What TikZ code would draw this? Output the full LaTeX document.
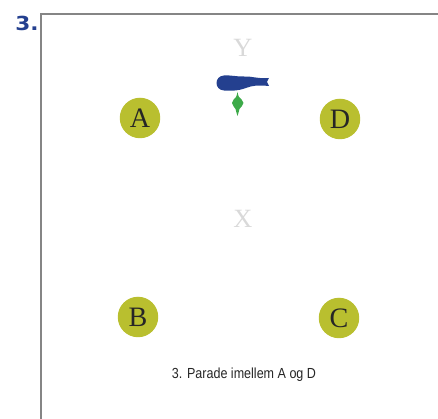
\documentclass[tikz,border=0pt]{standalone}
\usepackage{fontspec}
\setmainfont{Liberation Serif}
\newfontfamily\capfont{Liberation Sans}
\newfontfamily\numfont{DejaVu Sans}
\definecolor{olive}{HTML}{B9BF2F}
\definecolor{navy}{HTML}{24408F}
\definecolor{leaf}{HTML}{3DAA49}
\definecolor{frame}{HTML}{858585}
\definecolor{mark}{HTML}{D9D9D9}
\tikzset{
  post/.style={circle,fill=olive,minimum size=0.81cm,inner sep=0pt,font=\fontsize{16}{16}\selectfont,text=black!85},
  field/.style={inner sep=0pt,font=\fontsize{15}{15}\selectfont,text=mark}
}
\begin{document}
\begin{tikzpicture}[scale=0.02]
\useasboundingbox (0,0) rectangle (438,-419);
\draw [frame,line width=1.5pt] (41,-419) -- (41,-14) -- (438,-14);
\node [inner sep=0pt,xscale=1.12,text=navy,font=\numfont\bfseries\fontsize{11}{11}\selectfont] (num) at (27,-23) {3.};
\node [post] (a) at (140,-118) {A};
\node [post] (d) at (340,-119) {D};
\node [post] (b) at (138,-317) {B};
\node [post] (c) at (339,-318) {C};
\node [field] (y) at (243,-48) {Y};
\node [field] (x) at (243,-219) {X};
\node [inner sep=0pt,xscale=0.86,text=black!85,font=\capfont\fontsize{8.3}{10}\selectfont] (cap) at (244,-375) {3. Parade imellem A og D};
% rider
\fill [navy] (224,-75.5) .. controls (232,-75) and (238,-77) .. (244,-76.5) .. controls (251,-76) and (258,-79) .. (269,-78) -- (267,-82) -- (269,-86) .. controls (258,-85) and (252,-85.5) .. (246,-88) .. controls (238,-91) and (230,-91) .. (224,-90.5) .. controls (214,-90) and (214,-76) .. (224,-75.5) -- cycle;
% horse
\fill [leaf] (237.5,-92) .. controls (238,-95) and (238.5,-96) .. (239,-97) .. controls (240,-99) and (243.5,-100) .. (243.5,-103) .. controls (243.5,-106) and (240,-107) .. (239.5,-109) .. controls (239,-111) and (238.5,-113) .. (237.5,-116) .. controls (236.5,-113) and (236,-111) .. (235.5,-109) .. controls (235,-107) and (232,-106) .. (232,-103) .. controls (232,-100) and (235,-99) .. (236,-97) .. controls (236.5,-96) and (237,-95) .. (237.5,-92) -- cycle;
\end{tikzpicture}
\end{document}
